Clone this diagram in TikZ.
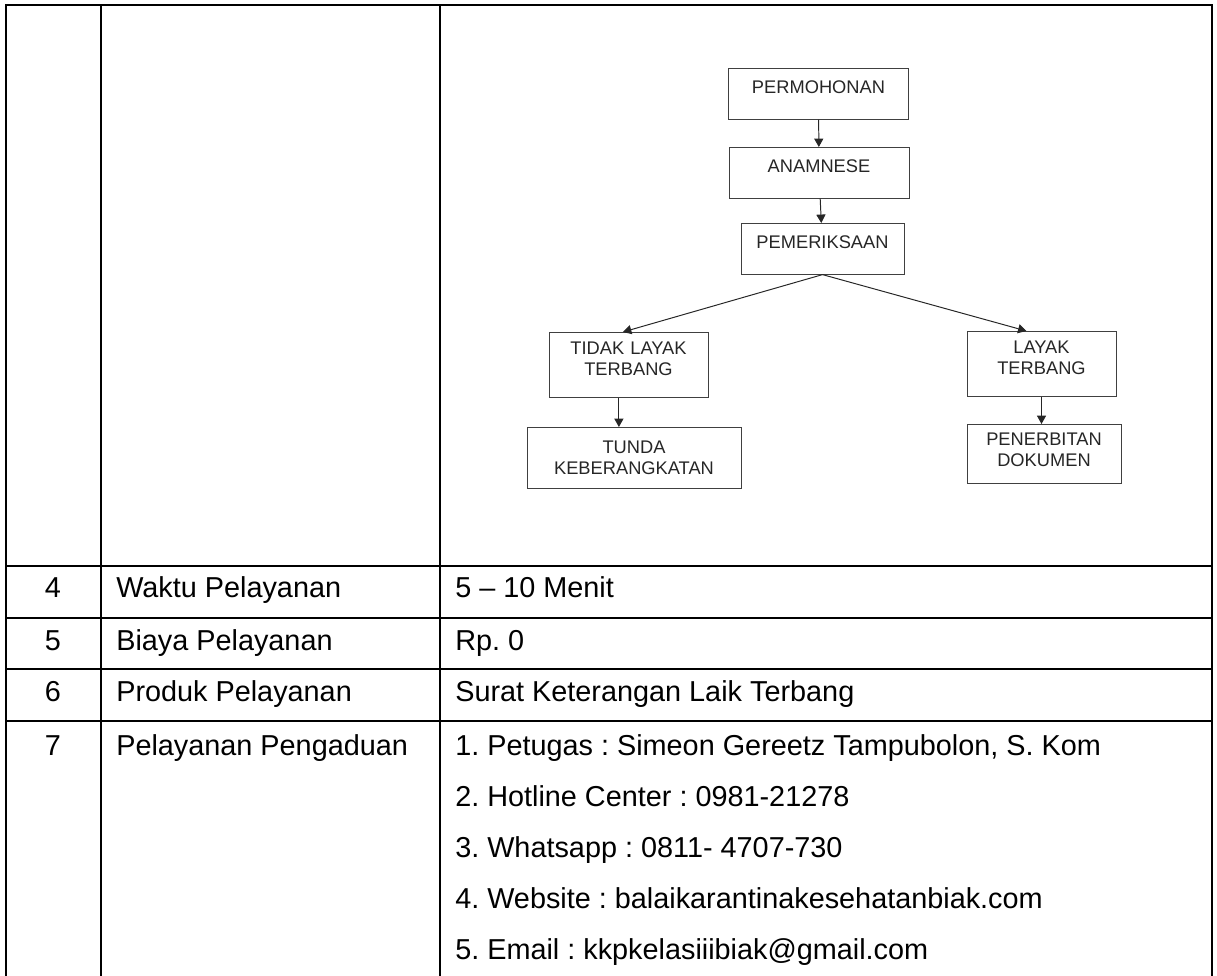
\documentclass[tikz,border=0pt]{standalone}
\usepackage{fontspec}
\setmainfont{Liberation Sans}
\usetikzlibrary{arrows.meta,calc}

\newcommand\flowfont{\fontsize{13}{15}\selectfont}
\newcommand\cellfont{\fontsize{20.5}{24}\selectfont\frenchspacing}

\tikzset{
    flowbox/.style={draw=black!75, line width=0.7pt, inner sep=0pt, anchor=north,
        align=center, text width=#1*0.025cm, font=\flowfont, text=black!85},
    oneline/.style={text height=18pt, text depth=18pt},
    twoline/.style={text height=15.5pt, text depth=31pt},
    tline/.style={line width=1.4pt, line cap=rect},
    cell/.style={anchor=base west, inner sep=0pt, font=\cellfont},
    num/.style={anchor=base, inner sep=0pt, font=\cellfont},
}

\begin{document}
\begin{tikzpicture}[x=0.025cm, y=-0.025cm]
    \useasboundingbox (0,0) rectangle (1217,975);

        % table lines
        \draw[tline] (6,5) -- (1212,5);
        \draw[tline] (6,5) -- (6,975);
        \draw[tline] (101,5) -- (101,975);
        \draw[tline] (440,5) -- (440,975);
        \draw[tline] (1212,5) -- (1212,975);
        \draw[tline] (6,566) -- (1212,566);
        \draw[tline] (6,618) -- (1212,618);
        \draw[tline] (6,669) -- (1212,669);
        \draw[tline] (6,721) -- (1212,721);

        % flow chart
        \node[flowbox=180, oneline] (perm) at (818.5,68) {PERMOHONAN};
        \node[flowbox=180, oneline] (anam) at (819,147) {ANAMNESE};
        \node[flowbox=163, oneline] (periksa) at (822.5,223) {PEMERIKSAAN};
        \node[flowbox=159, twoline] (tidak) at (628.5,332) {TIDAK LAYAK\\TERBANG};
        \node[flowbox=214, text height=18.5pt, text depth=25pt] (tunda) at (634,427) {TUNDA\\KEBERANGKATAN};
        \node[flowbox=149, twoline] (layak) at (1041.5,331) {LAYAK\\TERBANG};
        \node[flowbox=154, text height=15pt, text depth=27pt] (terbit) at (1044,424) {PENERBITAN\\DOKUMEN};

        \coordinate (tidaktop) at ($(tidak.north west)!0.465!(tidak.north east)$);
        \coordinate (layaktop) at ($(layak.north west)!0.4!(layak.north east)$);
        \coordinate (tidakfoot) at ($(tidak.south west)!0.44!(tidak.south east)$);

        \begin{scope}[every edge/.style={draw=black!85, line width=0.7pt}]
            \path [-{Triangle[length=6pt,width=6.5pt]}] (perm) edge (anam);
            \path [-{Triangle[length=6pt,width=6.5pt]}] (anam) edge (periksa);
            \path [-{Triangle[length=6pt,width=6.5pt]}] (periksa.south) edge (tidaktop);
            \path [-{Triangle[length=6pt,width=6.5pt]}] (periksa.south) edge (layaktop);
            \path [-{Triangle[length=6pt,width=6.5pt]}] (tidakfoot) edge (tidakfoot |- tunda.north);
            \path [-{Triangle[length=6pt,width=6.5pt]}] (layak.south) edge (layak.south |- terbit.north);
        \end{scope}

        % rows
        \node[num] (n4) at (53,597) {4};
        \node[cell] (w4) at (116,597) {Waktu Pelayanan};
        \node[cell] (v4) at (455,597) {5 -- 10 Menit};
        \node[num] (n5) at (53,650) {5};
        \node[cell] (w5) at (116,650) {Biaya Pelayanan};
        \node[cell] (v5) at (455,650) {Rp. 0};
        \node[num] (n6) at (53,701) {6};
        \node[cell] (w6) at (116,701) {Produk Pelayanan};
        \node[cell] (v6) at (455,701) {Surat Keterangan Laik Terbang};
        \node[num] (n7) at (53,755) {7};
        \node[cell] (w7) at (116,755) {Pelayanan Pengaduan};

        \node[cell] (i1) at (455,755) {1.};
        \node[cell] (t1) at (487,755) {Petugas : Simeon Gereetz Tampubolon, S. Kom};
        \node[cell] (i2) at (455,806) {2.};
        \node[cell] (t2) at (487,806) {Hotline Center : 0981-21278};
        \node[cell] (i3) at (455,857) {3.};
        \node[cell] (t3) at (487,857) {Whatsapp : 0811- 4707-730};
        \node[cell] (i4) at (455,908) {4.};
        \node[cell] (t4) at (487,908) {Website : balaikarantinakesehatanbiak.com};
        \node[cell] (i5) at (455,959) {5.};
        \node[cell] (t5) at (487,959) {Email : kkpkelasiiibiak@gmail.com};

\end{tikzpicture}
\end{document}
